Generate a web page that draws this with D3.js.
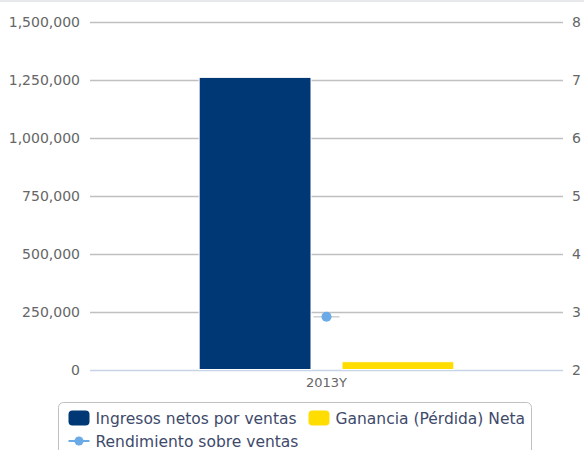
<!DOCTYPE html>
<html>
<head>
<meta charset="utf-8">
<script src="https://cdn.jsdelivr.net/npm/d3@7"></script>
<style>
  body { margin: 0; background: #fff; }
  text { font-family: "DejaVu Sans", Verdana, sans-serif; }
</style>
</head>
<body>
<div id="chart"></div>
<script>
// data
const categories = ["2013Y"];
const barSeries = ["Ingresos netos por ventas", "Ganancia (Pérdida) Neta"];
const barColors = ["#003876", "#ffdd00"];
const ingresos = [1261000];
const ganancia = [33700];
const rendimiento = [2.91];
const leftTicks = [0, 250000, 500000, 750000, 1000000, 1250000, 1500000];
const rightTicks = [2, 3, 4, 5, 6, 7, 8];
const lineName = "Rendimiento sobre ventas";
const lineColor = "#6aaae6";

const width = 584, height = 450;
const margin = { top: 22, right: 21, bottom: 80.5, left: 90 };
const plotW = width - margin.left - margin.right;
const plotH = height - margin.top - margin.bottom;

const svg = d3.select("#chart").append("svg")
  .attr("width", width)
  .attr("height", height);

// thin light band at the very top
svg.append("rect").attr("x", 0).attr("y", 0).attr("width", width).attr("height", 2)
  .attr("fill", "#e6e8ec");

const g = svg.append("g")
  .attr("transform", `translate(${margin.left},${margin.top})`);

const yLeft = d3.scaleLinear().domain([0, 1500000]).range([plotH, 0]);
const yRight = d3.scaleLinear().domain([2, 8]).range([plotH, 0]);

const x0 = d3.scaleBand().domain(categories).range([0, plotW]).padding(0.3);
const x1 = d3.scaleBand().domain(barSeries).range([0, x0.bandwidth()]).paddingInner(0.217);

// gridlines
g.selectAll(".grid")
  .data(leftTicks)
  .join("line")
  .attr("class", "grid")
  .attr("x1", 0).attr("x2", plotW)
  .attr("y1", (d) => Math.round(yLeft(d)) + 0.5)
  .attr("y2", (d) => Math.round(yLeft(d)) + 0.5)
  .attr("stroke", (d) => (d === 0 ? "#c6d4e6" : "#c0c0c0"))
  .attr("stroke-width", 1.3);

// left axis labels
g.selectAll(".ly")
  .data(leftTicks)
  .join("text")
  .attr("class", "ly")
  .attr("x", -10)
  .attr("y", (d) => yLeft(d) + 5)
  .attr("text-anchor", "end")
  .attr("font-size", 14)
  .attr("fill", "#666")
  .text((d) => d3.format(",")(d));

// right axis labels
g.selectAll(".ry")
  .data(rightTicks)
  .join("text")
  .attr("class", "ry")
  .attr("x", plotW + 9)
  .attr("y", (d) => yRight(d) + 5)
  .attr("text-anchor", "start")
  .attr("font-size", 14)
  .attr("fill", "#666")
  .text((d) => d);

// category label
g.selectAll(".xl")
  .data(categories)
  .join("text")
  .attr("class", "xl")
  .attr("x", (d) => x0(d) + x0.bandwidth() / 2)
  .attr("y", plotH + 17)
  .attr("text-anchor", "middle")
  .attr("font-size", 13)
  .attr("fill", "#666")
  .text((d) => d);

// bars
const barData = categories.flatMap((c, i) => [
  { cat: c, key: barSeries[0], value: ingresos[i], color: barColors[0] },
  { cat: c, key: barSeries[1], value: ganancia[i], color: barColors[1] },
]);

g.selectAll(".bar")
  .data(barData)
  .join("rect")
  .attr("class", "bar")
  .attr("x", (d) => x0(d.cat) + x1(d.key))
  .attr("y", (d) => yLeft(d.value))
  .attr("width", x1.bandwidth())
  .attr("height", (d) => plotH - yLeft(d.value))
  .attr("fill", (d) => d.color)
  .attr("stroke", "#fff")
  .attr("stroke-width", 1);

// line series (single point)
const cx = (c) => x0(c) + x0.bandwidth() / 2;
g.selectAll(".lseg")
  .data(categories)
  .join("line")
  .attr("class", "lseg")
  .attr("x1", (d) => cx(d) - 13)
  .attr("x2", (d) => cx(d) + 13)
  .attr("y1", (d, i) => yRight(rendimiento[i]))
  .attr("y2", (d, i) => yRight(rendimiento[i]))
  .attr("stroke", "#cfcfcf")
  .attr("stroke-width", 1.5);

g.selectAll(".pt")
  .data(categories)
  .join("circle")
  .attr("class", "pt")
  .attr("cx", cx)
  .attr("cy", (d, i) => yRight(rendimiento[i]))
  .attr("r", 5)
  .attr("fill", lineColor);

// legend
const legend = svg.append("g").attr("transform", "translate(58.5,402.5)");
legend.append("rect")
  .attr("width", 473).attr("height", 60)
  .attr("rx", 5)
  .attr("fill", "#fff")
  .attr("stroke", "#c0c0c0")
  .attr("stroke-width", 1);

const items = [
  { name: barSeries[0], color: barColors[0], x: 10, y: 8 },
  { name: barSeries[1], color: barColors[1], x: 250, y: 8 },
];
const li = legend.selectAll(".li").data(items).join("g")
  .attr("class", "li")
  .attr("transform", (d) => `translate(${d.x},${d.y})`);
li.append("rect")
  .attr("width", 21).attr("height", 15).attr("rx", 4)
  .attr("fill", (d) => d.color);
li.append("text")
  .attr("x", 27).attr("y", 13.5)
  .attr("font-size", 15.5)
  .attr("fill", "#3e4a6b")
  .text((d) => d.name);

const ll = legend.append("g").attr("transform", "translate(10,38.5)");
ll.append("line").attr("x1", 0).attr("x2", 21).attr("stroke", lineColor).attr("stroke-width", 2);
ll.append("circle").attr("cx", 10.5).attr("r", 4.5).attr("fill", lineColor);
ll.append("text").attr("x", 27).attr("y", 5.5)
  .attr("font-size", 15.5)
  .attr("fill", "#3e4a6b")
  .text(lineName);
</script>
</body>
</html>
